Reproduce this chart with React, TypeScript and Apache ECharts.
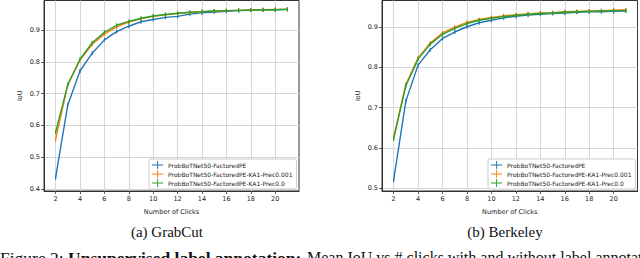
import React, { useEffect, useRef } from "react";
import * as echarts from "echarts";

const clicks = [2, 3, 4, 5, 6, 7, 8, 9, 10, 11, 12, 13, 14, 15, 16, 17, 18, 19, 20, 21];
const seriesNames = [
  "ProbBoTNet50-FactoredPE",
  "ProbBoTNet50-FactoredPE-KA1-Prec0.001",
  "ProbBoTNet50-FactoredPE-KA1-Prec0.0",
];
const colors = ["#1f77b4", "#ff7f0e", "#2ca02c"];

// (a) GrabCut
const grabBase = [0.435, 0.664, 0.771, 0.827, 0.869, 0.895, 0.912, 0.926, 0.933, 0.94, 0.943, 0.95, 0.954, 0.957, 0.959, 0.961, 0.962, 0.963, 0.964, 0.965];
const grabPrec001 = [0.555, 0.728, 0.805, 0.855, 0.887, 0.91, 0.925, 0.935, 0.943, 0.948, 0.952, 0.955, 0.958, 0.96, 0.961, 0.962, 0.963, 0.964, 0.965, 0.965];
const grabPrec0 = [0.578, 0.728, 0.808, 0.86, 0.893, 0.915, 0.927, 0.937, 0.944, 0.949, 0.953, 0.956, 0.958, 0.96, 0.961, 0.962, 0.963, 0.964, 0.964, 0.965];

// (b) Berkeley
const berkBase = [0.52, 0.716, 0.805, 0.843, 0.871, 0.887, 0.9, 0.91, 0.916, 0.922, 0.926, 0.929, 0.931, 0.933, 0.934, 0.936, 0.937, 0.937, 0.938, 0.939];
const berkPrec001 = [0.627, 0.757, 0.823, 0.86, 0.885, 0.899, 0.911, 0.918, 0.923, 0.927, 0.93, 0.932, 0.934, 0.935, 0.937, 0.938, 0.939, 0.94, 0.941, 0.942];
const berkPrec0 = [0.622, 0.754, 0.82, 0.857, 0.881, 0.896, 0.908, 0.916, 0.921, 0.925, 0.928, 0.931, 0.933, 0.934, 0.936, 0.937, 0.938, 0.939, 0.94, 0.94];

const xTicks = [2, 4, 6, 8, 10, 12, 14, 16, 18, 20];
const yTicksGrab = [0.4, 0.5, 0.6, 0.7, 0.8, 0.9];
const yTicksBerk = [0.5, 0.6, 0.7, 0.8, 0.9];

const captionA = "(a) GrabCut";
const captionB = "(b) Berkeley";
const xName = "Number of Clicks";
const yName = "IoU";
const figLead = "Figure 2: {b|Unsupervised label annotation:}";
const figRest = "Mean IoU vs # clicks with and without label annotation";

const FONT = "DejaVu Sans";
const SERIF = "Liberation Serif";
const INK = "#222";

function makeX(gridIndex: number) {
  return {
    type: "value",
    gridIndex,
    min: 1.05,
    max: 21.95,
    name: xName,
    nameLocation: "middle",
    nameGap: 17,
    nameTextStyle: { fontFamily: FONT, fontSize: 6.5, color: INK },
    axisLine: { show: true, lineStyle: { color: "#333", width: 1 } },
    axisTick: { show: true, length: 3, customValues: xTicks, lineStyle: { color: "#333", width: 0.8 } },
    axisLabel: { customValues: xTicks, fontFamily: FONT, fontSize: 6.5, color: INK, margin: 4 },
    splitLine: { show: true, lineStyle: { color: "#d6d6d6", width: 1 } },
  };
}

function makeY(gridIndex: number, min: number, max: number, ticks: number[], nameGap: number) {
  return {
    type: "value",
    gridIndex,
    min,
    max,
    name: yName,
    nameLocation: "middle",
    nameRotate: 90,
    nameGap,
    nameTextStyle: { fontFamily: FONT, fontSize: 6.5, color: INK },
    axisLine: { show: true, lineStyle: { color: "#333", width: 1 } },
    axisTick: { show: true, length: 3, customValues: ticks, lineStyle: { color: "#333", width: 0.8 } },
    axisLabel: {
      customValues: ticks,
      fontFamily: FONT,
      fontSize: 6.5,
      color: INK,
      margin: 4,
      formatter: (v: number) => v.toFixed(1),
    },
    splitLine: { show: true, lineStyle: { color: "#d6d6d6", width: 1 } },
  };
}

function makeSeries(values: number[], idx: number, axisIndex: number) {
  return {
    type: "line",
    name: seriesNames[idx],
    xAxisIndex: axisIndex,
    yAxisIndex: axisIndex,
    data: clicks.map((c, i) => [c, values[i]]),
    symbol: "rect",
    symbolSize: [1.2, 4],
    showSymbol: true,
    lineStyle: { color: colors[idx], width: 1.4 },
    itemStyle: { color: colors[idx] },
    z: 2 + idx,
  };
}

const plusIcon = "path://M0,4.4 H14 V5.6 H0 Z M6.4,0 H7.6 V10 H6.4 Z";

function makeLegend(left: number) {
  return {
    left,
    top: 159,
    orient: "vertical",
    data: seriesNames.map((n) => ({ name: n, icon: plusIcon })),
    itemWidth: 13,
    itemHeight: 8,
    itemGap: 1,
    padding: [2, 4, 2, 3],
    backgroundColor: "#fff",
    borderColor: "#cccccc",
    borderWidth: 1,
    borderRadius: 2,
    selectedMode: false,
    textStyle: { fontFamily: FONT, fontSize: 6, color: INK, padding: [0, 0, 0, -1] },
  };
}

export default function App() {
  const ref = useRef<HTMLDivElement>(null);

  useEffect(() => {
    if (!ref.current) return;
    const chart = echarts.init(ref.current, null, { renderer: "svg" });
    chart.setOption({
      animation: false,
      backgroundColor: "#fff",
      grid: [
        { left: 44, top: 0.5, width: 255, height: 190.5, show: true, borderColor: "#333", borderWidth: 1, backgroundColor: "transparent" },
        { left: 382, top: 0.5, width: 255.5, height: 190.5, show: true, borderColor: "#333", borderWidth: 1, backgroundColor: "transparent" },
      ],
      xAxis: [makeX(0), makeX(1)],
      yAxis: [makeY(0, 0.393, 0.993, yTicksGrab, 21), makeY(1, 0.4935, 0.965, yTicksBerk, 21)],
      legend: [makeLegend(149), makeLegend(488)],
      series: [
        makeSeries(grabBase, 0, 0),
        makeSeries(grabPrec001, 1, 0),
        makeSeries(grabPrec0, 2, 0),
        makeSeries(berkBase, 0, 1),
        makeSeries(berkPrec001, 1, 1),
        makeSeries(berkPrec0, 2, 1),
      ],
      graphic: [
        {
          type: "text",
          x: 167,
          y: 232,
          style: { text: captionA, fontFamily: SERIF, fontSize: 15, fill: "#111", align: "center", verticalAlign: "middle" },
        },
        {
          type: "text",
          x: 505,
          y: 232,
          style: { text: captionB, fontFamily: SERIF, fontSize: 15, fill: "#111", align: "center", verticalAlign: "middle" },
        },
        {
          type: "text",
          x: 0,
          y: 248.5,
          style: {
            text: figLead,
            fontFamily: SERIF,
            fontSize: 17.5,
            fill: "#111",
            verticalAlign: "top",
            rich: { b: { fontFamily: SERIF, fontSize: 17.5, fontWeight: "bold", fill: "#111" } },
          },
        },
        {
          type: "text",
          x: 307,
          y: 249.5,
          style: {
            text: figRest,
            fontFamily: SERIF,
            fontSize: 16,
            fill: "#111",
            verticalAlign: "top",
          },
        },
      ],
    });
    return () => chart.dispose();
  }, []);

  return (
    <div
      ref={ref}
      style={{ position: "absolute", left: 0, top: 0, width: 640, height: 258, background: "#fff" }}
    />
  );
}
